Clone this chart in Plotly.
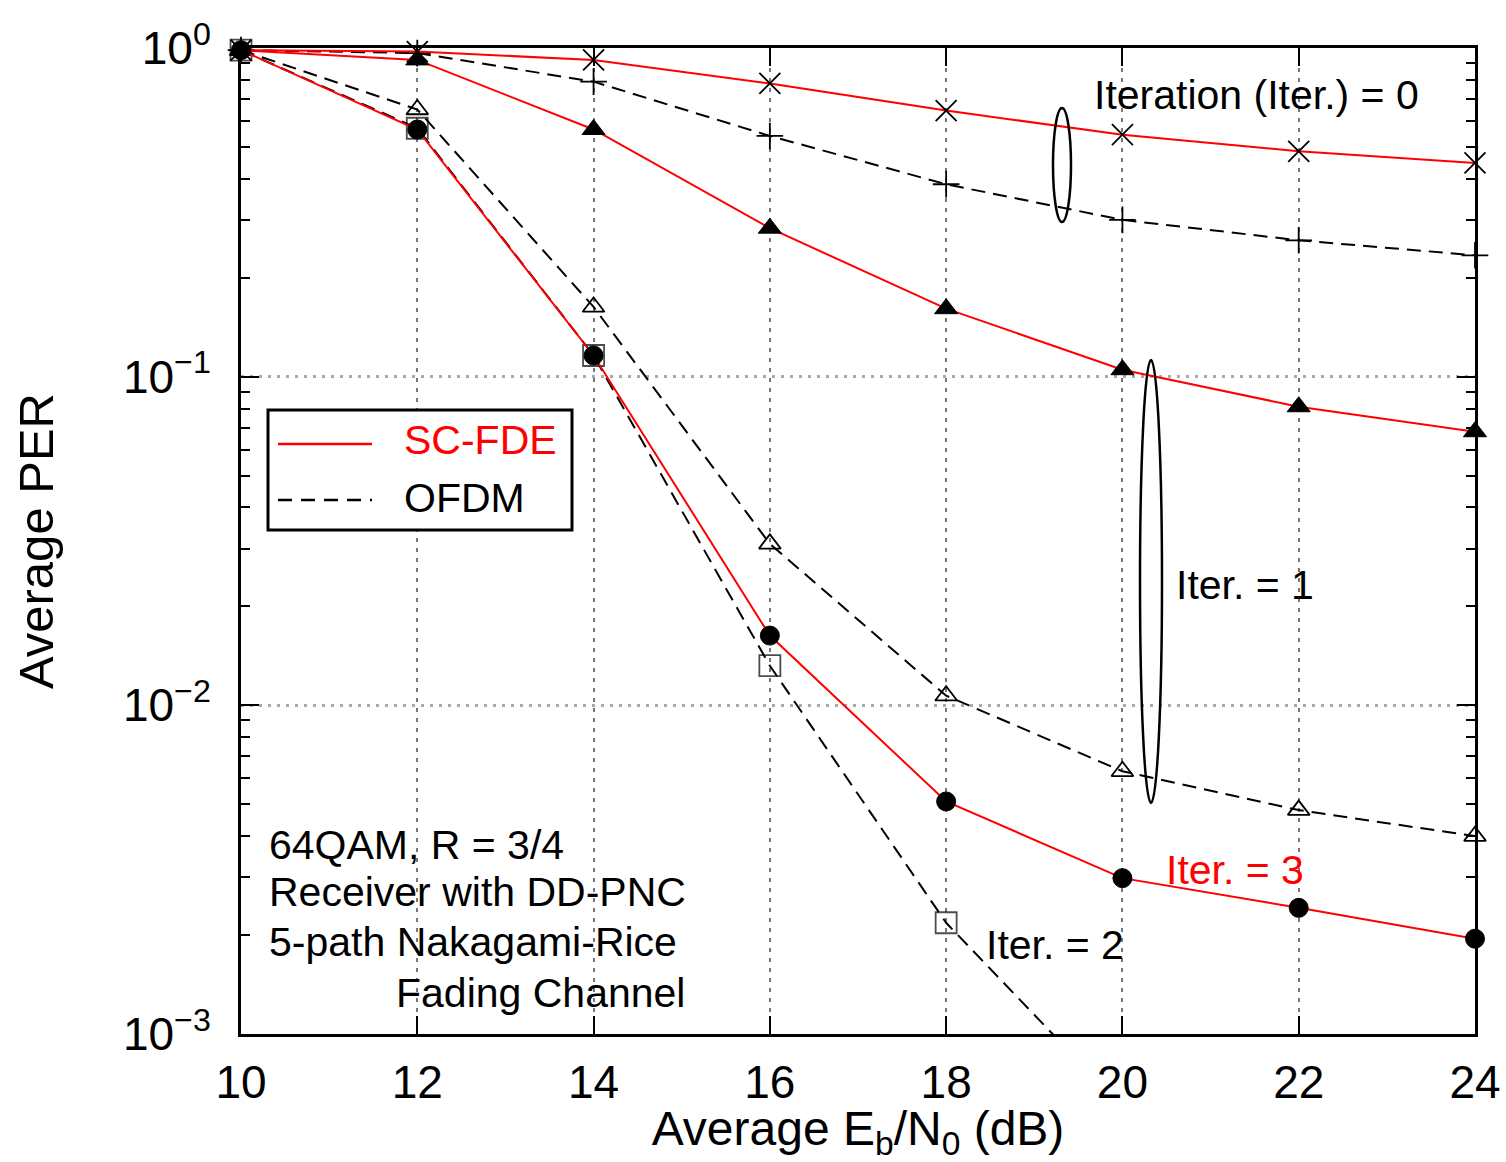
import plotly.graph_objects as go

# ---------------- data ----------------
ebn0 = [10, 12, 14, 16, 18, 20, 22, 24]
ebn0_ofdm2 = [10, 12, 14, 16, 18, 20]

sc_iter0 = [0.985, 0.975, 0.92, 0.78, 0.645, 0.545, 0.485, 0.447]
ofdm_iter0 = [0.985, 0.965, 0.79, 0.54, 0.385, 0.30, 0.26, 0.234]
sc_iter1 = [0.985, 0.92, 0.565, 0.283, 0.161, 0.105, 0.081, 0.068]
ofdm_iter1 = [0.985, 0.65, 0.163, 0.031, 0.0107, 0.0063, 0.0048, 0.0040]
ofdm_iter2 = [0.985, 0.57, 0.116, 0.0132, 0.00218, 0.0006]
sc_iter3 = [0.985, 0.565, 0.116, 0.0163, 0.0051, 0.00298, 0.00242, 0.00195]

x_ticks = [10, 12, 14, 16, 18, 20, 22, 24]
y_ticks = [1, 0.1, 0.01, 0.001]
y_ticktext = ["10<sup>0</sup>", "10<sup>\u22121</sup>", "10<sup>\u22122</sup>", "10<sup>\u22123</sup>"]

FONT = "Liberation Sans, Arial, Helvetica, sans-serif"
RED = "#ff0000"
DASH = "14px,8px"

fig = go.Figure()

def add(x, y, color, dash, symbol, size, filled, name, sizes=None):
    fig.add_trace(go.Scatter(
        x=x, y=y, mode="lines+markers", name=name, showlegend=False,
        cliponaxis=False,
        line=dict(color=color, width=2, dash=dash),
        marker=dict(symbol=symbol, size=sizes if sizes else size,
                    color="black",
                    line=dict(color="black", width=1.8 if not filled else 1)),
    ))

add(ebn0, ofdm_iter0, "black", DASH, "cross-thin", 19, False, "OFDM Iter.=0")
add(ebn0, ofdm_iter1, "black", DASH, "triangle-up-open", 19, False, "OFDM Iter.=1")
add(ebn0_ofdm2, ofdm_iter2, "black", DASH, "square-open", 21, False, "OFDM Iter.=2",
    sizes=[21, 21, 21, 21, 21, 0])
add(ebn0, sc_iter0, RED, "solid", "x-thin", 21, False, "SC-FDE Iter.=0")
add(ebn0, sc_iter1, RED, "solid", "triangle-up", 20, True, "SC-FDE Iter.=1")
add(ebn0, sc_iter3, RED, "solid", "circle", 19, True, "SC-FDE Iter.=3")

# ---------------- layout ----------------
L, R, T, B = 241, 31, 48, 128
W, H = 1506, 1162
pw, ph = W - L - R, H - T - B

def px(xp):
    return (xp - L) / pw

def py(yp):
    return (H - B - yp) / ph

minor_vals = [m * 10.0 ** e for e in (-3, -2, -1) for m in range(2, 10)]

fig.update_layout(
    width=W, height=H,
    margin=dict(l=L, r=R, t=T, b=B, pad=0),
    paper_bgcolor="white", plot_bgcolor="white",
    font=dict(family=FONT, color="black"),
    xaxis=dict(
        range=[10, 24], tickvals=x_ticks, ticks="inside", ticklen=18,
        tickwidth=2, tickcolor="black", mirror="allticks", showline=True,
        linecolor="black", linewidth=3, showgrid=True, gridcolor="#777777",
        griddash="4px,6px", gridwidth=1.5, zeroline=False, automargin=False,
        tickfont=dict(size=46, family=FONT), ticklabelstandoff=6,
        title=dict(text="Average E<sub>b</sub>/N<sub>0</sub> (dB)",
                   font=dict(size=48, family=FONT), standoff=20),
    ),
    yaxis=dict(
        type="log", range=[-3, 0], tickvals=y_ticks, ticktext=y_ticktext,
        ticks="inside", ticklen=18, tickwidth=2, tickcolor="black",
        mirror="allticks", showline=True, linecolor="black", linewidth=3,
        showgrid=True, gridcolor="#aaaaaa", griddash="3px,6px", gridwidth=2.5,
        zeroline=False, automargin=False, tickfont=dict(size=46, family=FONT),
        ticklabelstandoff=18,
        minor=dict(tickvals=minor_vals, ticks="inside", ticklen=9,
                   tickwidth=2, tickcolor="black", showgrid=False),
        title=dict(text="Average PER", font=dict(size=49, family=FONT),
                   standoff=54),
    ),
)

# ---------------- ellipses, legend box (paper coordinates) ----------------
shapes = [
    dict(type="circle", xref="paper", yref="paper",
         x0=px(1053), x1=px(1071), y0=py(222), y1=py(108),
         line=dict(color="black", width=2.5)),
    dict(type="circle", xref="paper", yref="paper",
         x0=px(1140), x1=px(1162), y0=py(803), y1=py(360),
         line=dict(color="black", width=2.5)),
    dict(type="rect", xref="paper", yref="paper",
         x0=px(268), x1=px(572), y0=py(530), y1=py(410),
         line=dict(color="black", width=3), fillcolor="white"),
    dict(type="line", xref="paper", yref="paper",
         x0=px(278), x1=px(372), y0=py(444), y1=py(444),
         line=dict(color=RED, width=2.5)),
    dict(type="line", xref="paper", yref="paper",
         x0=px(278), x1=px(372), y0=py(500), y1=py(500),
         line=dict(color="black", width=2.5, dash="14px,9px")),
]
fig.update_layout(shapes=shapes)

ANN = 41
def note(text, xl, yc, color="black", size=ANN):
    fig.add_annotation(text=text, xref="paper", yref="paper",
                       x=px(xl), y=py(yc), xanchor="left", yanchor="middle",
                       showarrow=False, font=dict(size=size, color=color, family=FONT))

note("SC-FDE", 402, 440, RED)
note("OFDM", 402, 498)
note("Iteration (Iter.) = 0", 1092, 95)
note("Iter. = 1", 1174, 585)
note("Iter. = 3", 1164, 870, RED)
note("Iter. = 2", 984, 945)
note("64QAM, R = 3/4", 267, 845)
note("Receiver with DD-PNC", 267, 892)
note("5-path Nakagami-Rice", 267, 942)
note("Fading Channel", 394, 993)

# remove the default page margin so the figure sits at the window's corner
fig.write_html("out.html", config={"displayModeBar": False},
               post_script="document.body.style.margin='0';")
